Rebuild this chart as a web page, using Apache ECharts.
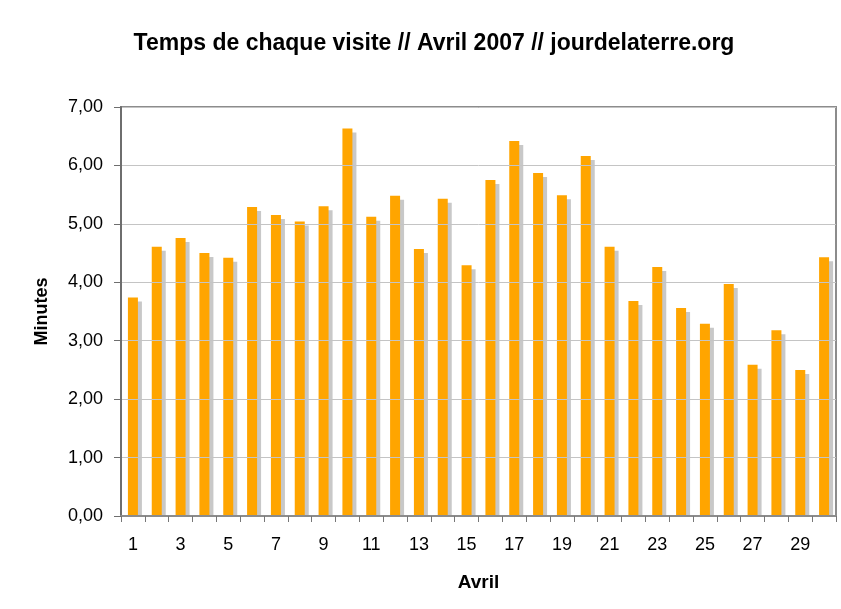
<!DOCTYPE html>
<html><head><meta charset="utf-8">
<script src="https://cdn.jsdelivr.net/npm/echarts@6/dist/echarts.min.js"></script>
<style>html,body{margin:0;padding:0;background:#fff}#c{width:841px;height:609px}</style>
</head><body><div id="c"></div>
<script>
const days = ["1","2","3","4","5","6","7","8","9","10","11","12","13","14","15","16","17","18","19","20","21","22","23","24","25","26","27","28","29","30"];
const minutes = [3.74,4.61,4.76,4.50,4.42,5.29,5.15,5.04,5.30,6.63,5.12,5.48,4.57,5.43,4.29,5.75,6.42,5.87,5.49,6.16,4.61,3.68,4.26,3.56,3.29,3.97,2.59,3.18,2.50,4.43];
const titleText = "Temps de chaque visite // Avril 2007 // jourdelaterre.org";
const font = "Liberation Sans";
const chart = echarts.init(document.getElementById('c'), null, {renderer:'canvas'});
chart.setOption({
  animation:false,
  backgroundColor:'#fff',
  title:{text:titleText,left:429,top:27,textAlign:'center',
    textStyle:{fontFamily:font,fontSize:23,fontWeight:'bold',color:'#000'}},
  grid:{left:121,right:5,top:107,bottom:93,show:true,borderColor:'#8c8c8c',borderWidth:2,containLabel:false},
  graphic:[{type:'rect',z:10,shape:{x:122,y:517,width:714,height:6},style:{fill:'#fff'},silent:true}],
  xAxis:{type:'category',data:days,boundaryGap:true,z:50,
    name:'Avril',nameLocation:'middle',nameGap:57,
    nameTextStyle:{fontFamily:font,fontSize:19,fontWeight:'bold',color:'#000'},
    axisLine:{lineStyle:{color:'#8c8c8c',width:2}},
    axisTick:{show:true,interval:0,length:6,lineStyle:{color:'#777',width:1}},
    axisLabel:{interval:1,margin:20,fontFamily:font,fontSize:18,color:'#000'}},
  yAxis:{type:'value',min:0,max:7,interval:1,z:50,
    name:'Minutes',nameLocation:'middle',nameGap:70,nameRotate:90,
    nameTextStyle:{fontFamily:font,fontSize:18,fontWeight:'bold',color:'#000'},
    axisLine:{show:true,lineStyle:{color:'#6e6e6e',width:2}},
    axisTick:{show:true,length:7,lineStyle:{color:'#6e6e6e',width:1}},
    axisLabel:{margin:18,fontFamily:font,fontSize:18,color:'#000',
      formatter:v=>v.toFixed(2).replace('.',',')},
    splitLine:{lineStyle:{color:'#c4c4c4',width:1}}},
  series:[{type:'bar',data:minutes,barWidth:10,
    itemStyle:{color:'#ffa500',shadowColor:'#c8c8c8',shadowOffsetX:4,shadowOffsetY:4,shadowBlur:0}}]
});
</script></body></html>
